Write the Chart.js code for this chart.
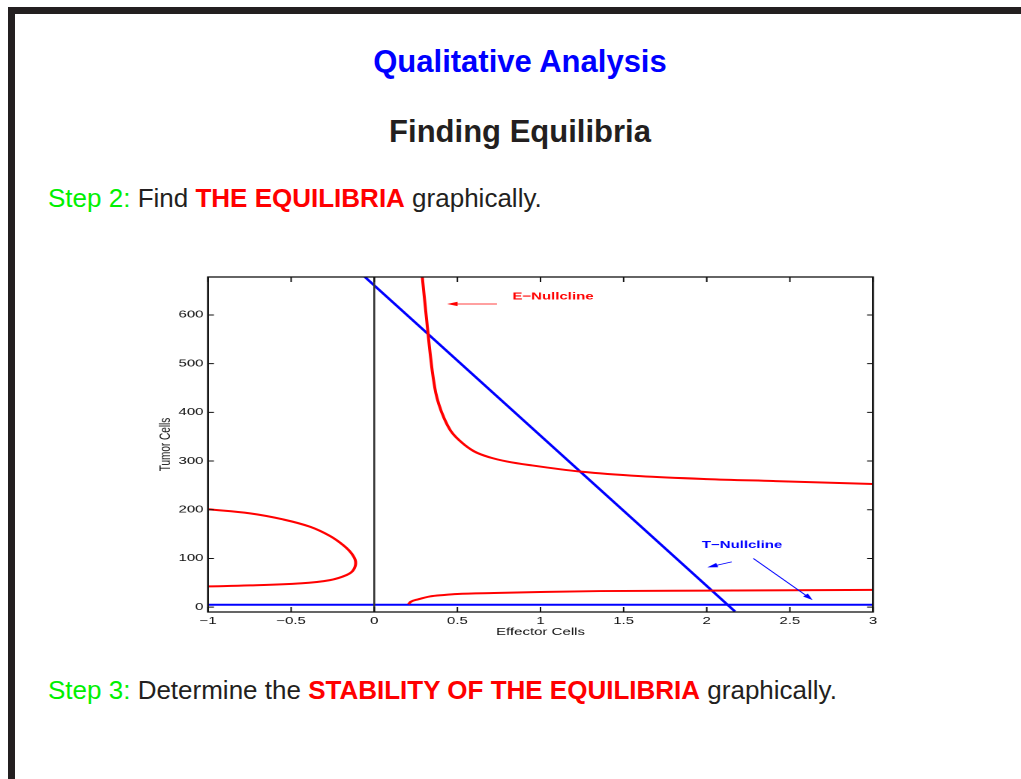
<!DOCTYPE html>
<html>
<head>
<meta charset="utf-8">
<script src="https://cdn.jsdelivr.net/npm/chart.js@4/dist/chart.umd.min.js"></script>
<style>
  html,body{margin:0;padding:0;background:#fff;}
  body{width:1021px;height:779px;overflow:hidden;position:relative;font-family:"Liberation Sans",Arial,Helvetica,sans-serif;color:#231f20;}
  .bt{position:absolute;left:8px;top:7px;width:1013px;height:7px;background:#231f20;}
  .bl{position:absolute;left:8px;top:7px;width:7px;height:772px;background:#231f20;}
  .t{position:absolute;white-space:nowrap;}
  #title{left:0;width:1040px;text-align:center;top:44px;font-size:31px;line-height:36px;font-weight:bold;color:#0000ff;}
  #sub{left:0;width:1040px;text-align:center;top:114px;font-size:31px;line-height:36px;font-weight:bold;color:#231f20;}
  .step{left:48px;font-size:26px;line-height:30px;}
  .g{color:#00f000;}
  .r{color:#ff0000;font-weight:bold;}
  #wrap{position:absolute;left:140px;top:262px;width:507px;height:390px;transform:scaleX(1.5);transform-origin:0 0;}
</style>
</head>
<body>
<div class="bt"></div><div class="bl"></div>
<div class="t" id="title">Qualitative Analysis</div>
<div class="t" id="sub">Finding Equilibria</div>
<div class="t step" style="top:183px;"><span class="g">Step 2:</span> Find <span class="r">THE EQUILIBRIA</span> graphically.</div>
<div class="t step" style="top:675px;"><span class="g">Step 3:</span> Determine the <span class="r">STABILITY OF THE EQUILIBRIA</span> graphically.</div>
<div id="wrap"><canvas id="c" width="507" height="390"></canvas></div>
<script>
// ---- axis ticks ----
const xTickValues = [-1, -0.5, 0, 0.5, 1, 1.5, 2, 2.5, 3];
const xTickLabels = ['\u22121', '\u22120.5', '0', '0.5', '1', '1.5', '2', '2.5', '3'];
const yTickValues = [0, 100, 200, 300, 400, 500, 600];
const yTickLabels = ['0', '100', '200', '300', '400', '500', '600'];
const xRange = [-1, 3];
const yRange = [-10, 678];

// ---- E-nullcline (red), upper right branch ----
const eUpperE = [0.289, 0.30, 0.315, 0.33, 0.35, 0.37, 0.39, 0.42, 0.46, 0.52, 0.60, 0.70, 0.80, 0.95, 1.25, 1.60, 2.00, 2.40, 3.00];
const eUpperT = [678, 640, 590, 540, 482, 440, 415, 388, 362, 340, 320, 307, 299, 291, 278, 269, 263, 259, 253];
// ---- E-nullcline, lower right branch ----
const eLowerE = [0.205, 0.22, 0.265, 0.335, 0.42, 0.50, 0.72, 1.00, 1.36, 2.00, 3.00];
const eLowerT = [6, 11, 16, 22, 25, 27, 29, 31, 33, 34, 35.5];
// ---- E-nullcline, left (negative E) branch ----
const eLeftE = [-1.0, -0.747, -0.547, -0.386, -0.266, -0.186, -0.136, -0.112, -0.126, -0.166, -0.266, -0.447, -0.747, -1.0];
const eLeftT = [201, 192.5, 180, 165, 146, 127, 110, 93, 76, 66, 55.5, 48.7, 44.6, 42.5];
// ---- T-nullclines (blue) ----
const tLineE = [-0.056, 2.17];
const tLineT = [678, -9];
const tZeroE = [-1, 3];
const tZeroT = [5, 5];
// ---- E = 0 axis line ----
const eAxisE = [0, 0];
const eAxisT = [-10, 678];

// ---- annotations (data coordinates) ----
const eLabel = {text: 'E\u2212Nullcline', E: 1.075, T: 637};
const eArrowFrom = [0.738, 622.6], eArrowTo = [0.438, 622.6];
const tLabel = {text: 'T\u2212Nullcline', E: 2.212, T: 127};
const tArrow1From = [2.150, 93], tArrow1To = [2.003, 81.6];
const tArrow2From = [2.280, 100], tArrow2To = [2.637, 14.4];

const pts = (xs, ys) => xs.map((x, i) => ({x: x, y: ys[i]}));

function arrow(ctx, xs, ys, from, to, color) {
  const x0 = xs.getPixelForValue(from[0]), y0 = ys.getPixelForValue(from[1]);
  const x1 = xs.getPixelForValue(to[0]), y1 = ys.getPixelForValue(to[1]);
  const a = Math.atan2(y1 - y0, x1 - x0);
  const L = 7, W = 2.2;
  ctx.save();
  ctx.strokeStyle = color; ctx.fillStyle = color; ctx.lineWidth = 0.8;
  ctx.beginPath(); ctx.moveTo(x0, y0); ctx.lineTo(x1 - Math.cos(a) * L * 0.8, y1 - Math.sin(a) * L * 0.8); ctx.stroke();
  ctx.beginPath();
  ctx.moveTo(x1, y1);
  ctx.lineTo(x1 - Math.cos(a) * L - Math.sin(a) * W, y1 - Math.sin(a) * L + Math.cos(a) * W);
  ctx.lineTo(x1 - Math.cos(a) * L + Math.sin(a) * W, y1 - Math.sin(a) * L - Math.cos(a) * W);
  ctx.closePath(); ctx.fill();
  ctx.restore();
}

const framePlugin = {
  id: 'frame',
  afterDatasetsDraw(chart) {
    const {ctx, chartArea: a, scales: {x, y}} = chart;
    ctx.save();
    arrow(ctx, x, y, eArrowFrom, eArrowTo, '#ff0000');
    arrow(ctx, x, y, tArrow1From, tArrow1To, '#0000ff');
    arrow(ctx, x, y, tArrow2From, tArrow2To, '#0000ff');
    ctx.font = 'bold 10px "Liberation Sans", Arial, sans-serif';
    ctx.textAlign = 'center'; ctx.textBaseline = 'middle';
    ctx.fillStyle = '#ff0000';
    ctx.fillText(eLabel.text, x.getPixelForValue(eLabel.E), y.getPixelForValue(eLabel.T));
    ctx.fillStyle = '#0000ff';
    ctx.fillText(tLabel.text, x.getPixelForValue(tLabel.E), y.getPixelForValue(tLabel.T));
    ctx.strokeStyle = '#111'; ctx.lineWidth = 1.3;
    ctx.strokeRect(a.left, a.top, a.right - a.left, a.bottom - a.top);
    ctx.lineWidth = 1;
    ctx.beginPath();
    x.ticks.forEach(t => {
      const px = x.getPixelForValue(t.value);
      ctx.moveTo(px, a.bottom); ctx.lineTo(px, a.bottom - 5);
      ctx.moveTo(px, a.top); ctx.lineTo(px, a.top + 5);
    });
    y.ticks.forEach(t => {
      const py = y.getPixelForValue(t.value);
      ctx.moveTo(a.left, py); ctx.lineTo(a.left + 4, py);
      ctx.moveTo(a.right, py); ctx.lineTo(a.right - 4, py);
    });
    ctx.stroke();
    ctx.restore();
  }
};

const lineDs = (data, color, width, tension, mode) => ({
  data: data, showLine: true, borderColor: color, backgroundColor: color,
  borderWidth: width, pointRadius: 0, pointHoverRadius: 0, tension: tension, fill: false,
  cubicInterpolationMode: mode || 'default'
});

new Chart(document.getElementById('c'), {
  type: 'scatter',
  data: {
    datasets: [
      lineDs(pts(eAxisE, eAxisT), '#333333', 1.3, 0),
      lineDs(pts(eLeftE, eLeftT), '#ff0000', 2, 0.4),
      lineDs(pts(eUpperE, eUpperT), '#ff0000', 2, 0.4, 'monotone'),
      lineDs(pts(eLowerE, eLowerT), '#ff0000', 2, 0.4, 'monotone'),
      lineDs(pts(tZeroE, tZeroT), '#0000ff', 2, 0),
      lineDs(pts(tLineE, tLineT), '#0000ff', 2, 0)
    ]
  },
  options: {
    responsive: false,
    devicePixelRatio: 2,
    animation: false,
    layout: {padding: {left: 7, right: 18.33, top: 15, bottom: 10}},
    plugins: {legend: {display: false}, tooltip: {enabled: false}},
    scales: {
      x: {
        type: 'linear', min: xRange[0], max: xRange[1],
        afterBuildTicks: s => { s.ticks = xTickValues.map(v => ({value: v})); },
        afterFit: s => { s.height = 30; },
        grid: {display: false, drawTicks: false},
        border: {display: false},
        ticks: {autoSkip: false, maxRotation: 0, padding: 3, color: '#111',
                font: {family: '"Liberation Sans", Arial, sans-serif', size: 10},
                callback: (v, i) => xTickLabels[i]},
        title: {display: true, text: 'Effector Cells', color: '#111', padding: {top: 0, bottom: 4},
                font: {family: '"Liberation Sans", Arial, sans-serif', size: 10}}
      },
      y: {
        type: 'linear', min: yRange[0], max: yRange[1],
        afterBuildTicks: s => { s.ticks = yTickValues.map(v => ({value: v})); },
        afterFit: s => { s.width = 38.33; },
        grid: {display: false, drawTicks: false},
        border: {display: false},
        ticks: {padding: 3, color: '#111',
                font: {family: '"Liberation Sans", Arial, sans-serif', size: 10},
                callback: (v, i) => yTickLabels[i]},
        title: {display: true, text: 'Tumor Cells', color: '#111', padding: {top: 4, bottom: 4},
                font: {family: '"Liberation Sans", Arial, sans-serif', size: 10}}
      }
    }
  },
  plugins: [framePlugin]
});
</script>
</body>
</html>
